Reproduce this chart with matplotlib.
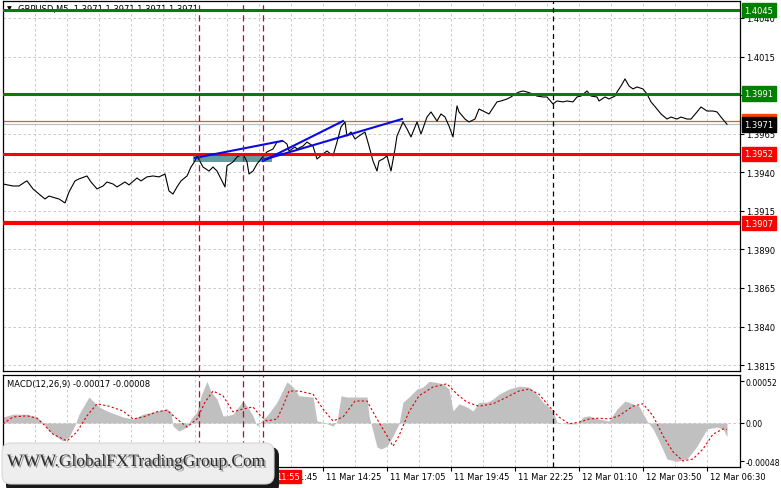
import matplotlib.pyplot as plt
import matplotlib.patheffects as pe
from matplotlib.patches import Rectangle, FancyBboxPatch
from matplotlib.transforms import IdentityTransform

# ==========================================
# 1. DONNÉES (GBPUSD M5, barre 0 = 11 Mar 01:05)
# ==========================================
price_bars = [0, 5, 8, 11, 12, 15, 18, 21, 23, 26,
              28, 31, 33, 36, 38, 42, 44, 47, 50, 52,
              55, 57, 61, 63, 67, 69, 72, 75, 78, 81,
              83, 85, 87, 89, 92, 94, 96, 97, 100, 103,
              105, 107, 111, 112, 115, 117, 120, 122, 123, 125,
              127, 129, 132, 135, 137, 140, 142, 143, 146, 147,
              150, 152, 155, 157, 160, 162, 165, 167, 169, 171,
              172, 174, 176, 178, 181, 183, 185, 187, 188, 190,
              192, 194, 196, 197, 200, 202, 204, 207, 209, 212,
              214, 217, 219, 221, 223, 225, 227, 228, 231, 233,
              236, 238, 241, 243, 247, 249, 252, 254, 256, 258,
              260, 262, 265, 267, 270, 272, 275, 277, 280, 282,
              285, 287, 289, 292, 294, 297, 298, 301, 303, 306,
              307, 309, 311, 313, 315, 317, 320, 322, 324, 327,
              329, 332, 334, 337, 339, 342, 344, 347, 349, 352,
              355, 357, 359, 362]
price_close = [1.39324, 1.39311, 1.39311, 1.39337, 1.39344, 1.39292, 1.39259, 1.39227, 1.39246, 1.39234,
               1.39227, 1.39201, 1.39272, 1.39344, 1.39357, 1.39376, 1.39337, 1.39292, 1.39311, 1.39337,
               1.39324, 1.39305, 1.39337, 1.39318, 1.39363, 1.39344, 1.39370, 1.39376, 1.39370, 1.39389,
               1.39279, 1.39259, 1.39305, 1.39344, 1.39376, 1.39434, 1.39473, 1.39506, 1.39434, 1.39408,
               1.39434, 1.39408, 1.39305, 1.39441, 1.39467, 1.39499, 1.39519, 1.39467, 1.39389, 1.39408,
               1.39454, 1.39486, 1.39532, 1.39551, 1.39596, 1.39603, 1.39583, 1.39538, 1.39564, 1.39551,
               1.39570, 1.39596, 1.39570, 1.39486, 1.39519, 1.39538, 1.39506, 1.39596, 1.39694, 1.39726,
               1.39635, 1.39661, 1.39616, 1.39635, 1.39661, 1.39570, 1.39473, 1.39408, 1.39473, 1.39486,
               1.39506, 1.39408, 1.39551, 1.39635, 1.39726, 1.39681, 1.39629, 1.39726, 1.39648, 1.39758,
               1.39791, 1.39732, 1.39778, 1.39758, 1.39700, 1.39629, 1.39830, 1.39791, 1.39745, 1.39726,
               1.39745, 1.39810, 1.39791, 1.39778, 1.39856, 1.39862, 1.39875, 1.39888, 1.39907, 1.39920,
               1.39927, 1.39920, 1.39907, 1.39894, 1.39888, 1.39888, 1.39843, 1.39862, 1.39856, 1.39862,
               1.39856, 1.39888, 1.39894, 1.39927, 1.39894, 1.39888, 1.39862, 1.39888, 1.39875, 1.39894,
               1.39920, 1.39959, 1.40005, 1.39959, 1.39940, 1.39953, 1.39940, 1.39907, 1.39856, 1.39810,
               1.39778, 1.39745, 1.39758, 1.39745, 1.39758, 1.39745, 1.39745, 1.39791, 1.39823, 1.39797,
               1.39797, 1.39791, 1.39758, 1.39711]

# MACD(12,26,9) : histogramme
hist_bars = [0, 5, 12, 17, 20, 23, 27, 30, 33, 36,
             38, 41, 43, 48, 53, 60, 65, 70, 77, 82,
             84, 85, 88, 92, 94, 97, 99, 102, 104, 107,
             110, 112, 115, 118, 120, 122, 125, 127, 130, 132,
             137, 142, 145, 148, 155, 157, 160, 165, 167, 169,
             172, 177, 182, 183, 187, 189, 192, 195, 198, 200,
             203, 207, 210, 213, 216, 220, 223, 225, 228, 232,
             235, 238, 242, 245, 248, 253, 258, 263, 267, 270,
             275, 277, 282, 287, 290, 293, 298, 303, 307, 311,
             315, 318, 322, 325, 328, 332, 337, 342, 347, 352,
             357, 360, 362]
macd_hist = [0.000075, 0.00011, 0.00011, 0.000075, 0.0, -0.0001, -0.000175, -0.000225, -0.000175, -0.000025,
             0.00011, 0.00024, 0.000325, 0.0002, 0.00014, 0.000075, 0.00005, 0.00011, 0.00015, 0.000175,
             0.00014, -0.00004, -0.0001, -0.00005, 0.00005, 0.00014, 0.00034, 0.00052, 0.00039, 0.0003,
             0.00009, 0.00009, 0.00011, 0.00021, 0.000275, 0.00021, 0.00009, -0.00004, 0.00005, 0.00009,
             0.00026, 0.000515, 0.00045, 0.00034, 0.000325, 0.000025, 0.00001, -0.00004, 0.000025, 0.00034,
             0.000325, 0.000325, 0.000325, 0.00009, -0.0003, -0.000325, -0.00029, -0.00016, -0.00001, 0.00026,
             0.000325, 0.000425, 0.00045, 0.00052, 0.00051, 0.00049, 0.000425, 0.00015, 0.00024, 0.0002,
             0.00015, 0.00026, 0.00026, 0.0003, 0.00036, 0.000425, 0.00046, 0.00045, 0.00036, 0.00026,
             0.00015, 0.00001, -0.00001, -0.00001, 0.000075, 0.00009, 0.00005, 0.000025, 0.000175, 0.000275,
             0.00024, 0.00021, 0.000025, -0.000075, -0.000225, -0.00045, -0.00048, -0.00045, -0.00029, -0.000075,
             -0.00005, -0.000075, -0.00017]

# MACD : ligne de signal
signal_bars = [0, 5, 12, 17, 20, 25, 32, 37, 42, 47,
               53, 60, 65, 70, 77, 82, 87, 92, 97, 101,
               105, 110, 115, 120, 125, 128, 132, 137, 140, 143,
               148, 155, 160, 165, 170, 176, 182, 187, 192, 195,
               198, 203, 208, 215, 222, 227, 232, 238, 245, 252,
               258, 263, 268, 273, 278, 283, 288, 293, 298, 303,
               308, 315, 320, 325, 330, 335, 340, 345, 350, 355,
               360, 362]
macd_signal = [-0.00001, 0.000075, 0.00009, 0.00006, -0.00001, -0.00014, -0.000225, -0.00011, 0.00009, 0.00024,
               0.00021, 0.00015, 0.00005, 0.000075, 0.00014, 0.00016, 0.00005, -0.00005, 0.00005, 0.00026,
               0.0004, 0.00034, 0.00014, 0.000175, 0.0002, 0.00011, 0.000025, 0.00005, 0.00021, 0.0004,
               0.0004, 0.00036, 0.000175, 0.000025, 0.000075, 0.000275, 0.000275, 0.00005, -0.00016, -0.00029,
               -0.00016, 0.00014, 0.00034, 0.00045, 0.00049, 0.00036, 0.00026, 0.00021, 0.00024, 0.000325,
               0.0004, 0.000425, 0.00036, 0.00021, 0.000075, -0.00001, 0.00001, 0.00005, 0.00006, 0.00005,
               0.00009, 0.00021, 0.00024, 0.00009, -0.00016, -0.00036, -0.000475, -0.00045, -0.000325, -0.00014,
               -0.000075, -0.00008]

time_tick_bars = [0, 32, 64, 96, 128, 160, 192, 224, 256, 288, 320, 352]
time_labels = ["11 Mar 01:05", "11 Mar 03:45", "11 Mar 06:25", "11 Mar 09:05",
               "11 Mar 11:45", "11 Mar 14:25", "11 Mar 17:05", "11 Mar 19:45",
               "11 Mar 22:25", "12 Mar 01:10", "12 Mar 03:50", "12 Mar 06:30"]
grid_bars = [16, 48, 80, 112, 144, 176, 208, 240, 272, 304, 336]
price_ticks = [1.3815, 1.3840, 1.3865, 1.3890, 1.3915, 1.3940, 1.3965, 1.3990, 1.4015, 1.4040]
macd_ticks = [-0.00048, 0.0, 0.00052]
macd_tick_labels = ["-0.00048", "0.00", "0.00052"]

# niveaux horizontaux
green_levels = [1.4045, 1.3991]
red_levels = [1.3952, 1.3907]
ask_price = 1.3973
bid_price = 1.3971

# lignes verticales (barres)
red_vlines = [98, 120, 130]
day_separator = 275

# zone et lignes de tendance
zone_start, zone_end = 95, 134.5
zone_low, zone_high = 1.39465, 1.39508
trend_lines = [(96, 1.39493, 139.5, 1.39603),
               (130, 1.39473, 170, 1.39732),
               (130, 1.39480, 199.5, 1.39745)]

# ==========================================
# 2. FIGURE
# ==========================================
W, H = 781, 489
fig = plt.figure(figsize=(W / 100, H / 100), dpi=100)
ax = fig.add_axes([3 / W, 1 - 372 / H, 737 / W, 370 / H])
axm = fig.add_axes([3 / W, 1 - 468 / H, 737 / W, 92 / H])

grid_kw = dict(color='#c0c0c0', linestyle=(0, (3, 3)), linewidth=0.6)
for a in (ax, axm):
    a.set_xlim(0, 368.5)
    for s in a.spines.values():
        s.set_linewidth(0.9)
        s.set_color('black')
    a.yaxis.tick_right()
    a.tick_params(axis='y', direction='out', length=3, width=0.8, pad=1.5, labelsize=6)
    a.tick_params(axis='x', which='both', length=0, labelbottom=False)
    for b in time_tick_bars + grid_bars:
        a.axvline(b, zorder=0, **grid_kw)

# --- panneau prix ---
ax.set_ylim(1.38112, 1.40510)
ax.set_yticks(price_ticks)
ax.set_yticklabels([f"{p:.4f}" for p in price_ticks])
for p in price_ticks:
    ax.axhline(p, zorder=0, **grid_kw)

ax.plot(price_bars, price_close, color='black', linewidth=0.8, zorder=3)

ax.axhline(bid_price, color='#c0c0c0', linewidth=0.9, zorder=2)
ax.axhline(ask_price, color='#d2691e', linewidth=0.9, zorder=2)
for lv in green_levels:
    ax.axhline(lv, color='#008000', linewidth=2.2, zorder=4)
ax.axhline(red_levels[0], color='#ff0000', linewidth=2.2, zorder=4)
ax.axhline(red_levels[1], color='#ff0000', linewidth=3.0, zorder=4)

ax.add_patch(Rectangle((zone_start, zone_low), zone_end - zone_start, zone_high - zone_low,
                       facecolor='#5f9ea0', edgecolor='none', zorder=2))
for x1, y1, x2, y2 in trend_lines:
    ax.plot([x1, x2], [y1, y2], color='#0a0ae0', linewidth=1.5, zorder=5)

for a in (ax, axm):
    for b in red_vlines:
        a.axvline(b, color='#cc0022', linestyle=(0, (5, 3)), linewidth=0.9, zorder=6)
    a.axvline(day_separator, color='black', linestyle=(0, (4, 3)), linewidth=0.9, zorder=6)

ax.text(0.006, 0.981, "\u25bc", transform=ax.transAxes, fontsize=4.5, va='center', zorder=1)
ax.text(0.021, 0.981, "GBPUSD,M5  1.3971 1.3971 1.3971 1.3971", transform=ax.transAxes,
        fontsize=6, va='center', zorder=1)

# étiquettes des niveaux sur l'échelle de droite
label_x = 1.0062
box_levels = [(1.4045, '#008000', 'white'), (1.3991, '#008000', 'white'),
              (ask_price, '#ff4500', 'white'), (bid_price, 'black', 'white'),
              (1.3952, '#ff0000', 'white'), (1.3907, '#ff0000', 'white')]
for lv, bg, fg in box_levels:
    ax.text(label_x, lv, f"{lv:.4f}", transform=ax.get_yaxis_transform(), ha='left', va='center',
            fontsize=6, color=fg, clip_on=False, zorder=8,
            bbox=dict(boxstyle='square,pad=0.32', facecolor=bg, edgecolor=bg))

# --- panneau MACD ---
axm.set_ylim(-0.00055, 0.0006)
axm.set_yticks(macd_ticks)
axm.set_yticklabels(macd_tick_labels)
axm.tick_params(axis='y', labelsize=5.6, pad=1.2)
axm.axhline(0, zorder=0, **grid_kw)
axm.fill_between(hist_bars, macd_hist, 0, color='#c0c0c0', linewidth=0, zorder=2)
axm.plot(signal_bars, macd_signal, color='#dd0000', linestyle=(0, (2, 2)), linewidth=0.8, zorder=3)
axm.text(0.005, 0.905, "MACD(12,26,9) -0.00017 -0.00008", transform=axm.transAxes,
         fontsize=6, va='center')

# axe du temps
axm.set_xticks(time_tick_bars)
axm.tick_params(axis='x', which='major', length=3, width=0.8, direction='out')
for b, lab in zip(time_tick_bars, time_labels):
    axm.annotate(lab, xy=(b, 0), xycoords=('data', 'axes fraction'), xytext=(2.5, -7),
                 textcoords='offset points', ha='left', va='center', fontsize=6, annotation_clip=False)
axm.annotate("11:55", xy=(136.3, 0), xycoords=('data', 'axes fraction'), xytext=(0, -7),
             textcoords='offset points', ha='left', va='center', fontsize=6, color='white',
             annotation_clip=False, zorder=9,
             bbox=dict(boxstyle='square,pad=0.25', facecolor='#ff0000', edgecolor='#ff0000'))

# ==========================================
# 3. FILIGRANE
# ==========================================
shadow = FancyBboxPatch((6, -6), 273, 47, boxstyle='round,pad=0,rounding_size=9',
                        transform=IdentityTransform(), facecolor='#1a1a1a', edgecolor='none', zorder=20)
box = FancyBboxPatch((2, 4), 272, 41, boxstyle='round,pad=0,rounding_size=9',
                     transform=IdentityTransform(), facecolor='#eeeeee', edgecolor='#d8d8d8',
                     linewidth=0.8, zorder=21)
fig.patches.extend([shadow, box])
fig.text(136, 26, "WWW.GlobalFXTradingGroup.Com", transform=IdentityTransform(),
         ha='center', va='center', fontsize=12.5, family='Liberation Serif', color='#2e2e2e', zorder=22,
         path_effects=[pe.withSimplePatchShadow(offset=(1.2, -1.2), shadow_rgbFace='#777777', alpha=0.7)])

fig.savefig('out.png', dpi=100)
